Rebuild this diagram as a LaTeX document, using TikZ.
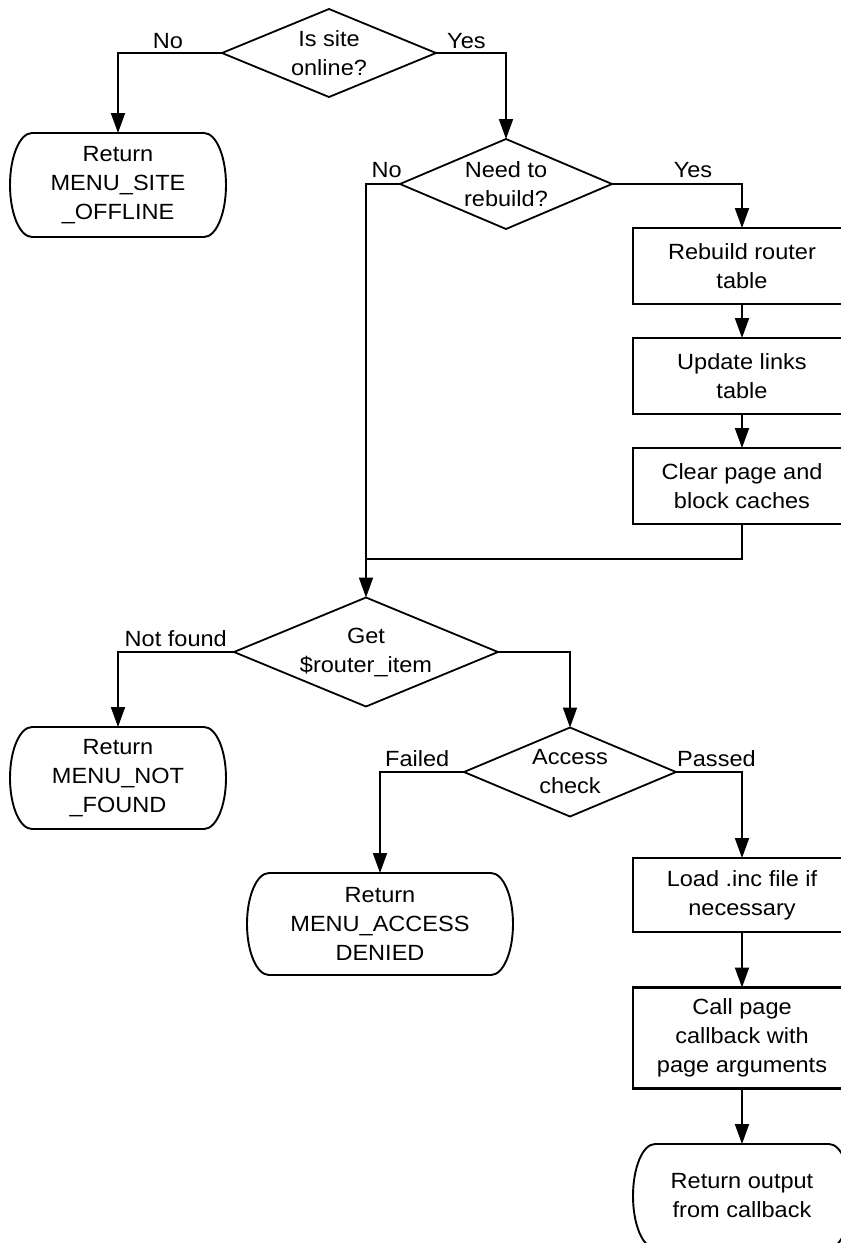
\documentclass[tikz,border=0pt]{standalone}
\usepackage{fontspec}
\setmainfont{Liberation Sans}[FakeStretch=1.07]
\usetikzlibrary{shapes.geometric,arrows.meta,calc}

% outline of a terminal node: straight top and bottom, elliptic sides
\newcommand\termframe[2]{%
  \draw[line] ($(#1.north west)+(22,0)$) -- ($(#1.north east)+(-22,0)$)
    arc[start angle=90,end angle=-90,x radius=22pt,y radius=#2pt]
    -- ($(#1.south west)+(22,0)$)
    arc[start angle=270,end angle=90,x radius=22pt,y radius=#2pt] -- cycle;}

\begin{document}
\begin{tikzpicture}[x=1pt,y=-1pt,
  line/.style={line width=1.9pt, line join=miter},
  arr/.style={line, -{Triangle[length=20pt,width=14pt]}},
  txt/.style={align=center, font=\fontsize{22}{29}\selectfont, inner sep=0pt, outer sep=0pt},
  dia/.style={diamond, draw, line width=1.8pt, inner sep=0pt, outer sep=0pt},
  box/.style={txt, rectangle, draw, line width=2.2pt, minimum width=218pt},
  term/.style={txt, rectangle, minimum width=216pt},
  lbl/.style={font=\fontsize{22}{29}\selectfont, inner sep=0pt}]

\useasboundingbox (0,0) rectangle (841,1243);
\clip (0,0) rectangle (841,1243);

% decisions
\node[dia, minimum width=214pt, minimum height=88pt] (d1) at (329,53) {};
\node[txt] (d1t) at (d1) {Is site\\online?};
\node[dia, minimum width=212pt, minimum height=90pt] (d2) at (506,184) {};
\node[txt] (d2t) at (d2) {Need to\\rebuild?};
\node[dia, minimum width=264pt, minimum height=109pt] (d3) at (366,652) {};
\node[txt] (d3t) at (d3) {Get\\\$router\_item};
\node[dia, minimum width=212pt, minimum height=89pt] (d4) at (570,772) {};
\node[txt] (d4t) at (d4) {Access\\check};

% process steps
\node[box, minimum height=76pt] (b1) at (742,266) {Rebuild router\\table};
\node[box, minimum height=76pt] (b2) at (742,376) {Update links\\table};
\node[box, minimum height=76pt] (b3) at (742,486) {Clear page and\\block caches};
\node[box, minimum height=74pt] (b4) at (742,895) {Load .inc file if\\necessary};
\node[box, minimum height=101pt] (b5) at (742,1038) {Call page\\callback with\\page arguments};

% terminals
\node[term, minimum height=104pt] (t1) at (118,185) {Return\\MENU\_SITE\\\_OFFLINE};
\node[term, minimum height=102pt] (t2) at (118,778) {Return\\MENU\_NOT\\\_FOUND};
\node[term, minimum width=266pt, minimum height=102pt] (t3) at (380,924) {Return\\MENU\_ACCESS\\DENIED};
\node[term, minimum width=218pt, minimum height=104pt] (t4) at (742,1196) {Return output\\from callback};
\termframe{t1}{52}
\termframe{t2}{51}
\termframe{t3}{51}
\termframe{t4}{52}

\coordinate (m) at (366,559);

% connectors
\draw[arr] (d1.west) -| (t1.north);
\draw[arr] (d1.east) -| (d2.north);
\draw[arr] (d2.east) -| (b1.north);
\draw[arr] (b1.south) -- (b2.north);
\draw[arr] (b2.south) -- (b3.north);
\draw[line] (b3.south) |- (m);
\draw[arr] (d2.west) -| (d3.north);
\draw[arr] (d3.west) -| (t2.north);
\draw[arr] (d3.east) -| (d4.north);
\draw[arr] (d4.west) -| (t3.north);
\draw[arr] (d4.east) -| (b4.north);
\draw[arr] (b4.south) -- (b5.north);
\draw[arr] (b5.south) -- (t4.north);

% branch labels
\node[lbl, anchor=base] (l1) at (168,48) {No};
\node[lbl, anchor=base west] (l2) at (447,48) {Yes};
\node[lbl, anchor=base east] (l3) at (402,177) {No};
\node[lbl, anchor=base] (l4) at (693,177) {Yes};
\node[lbl, anchor=base east] (l5) at (227,646) {Not found};
\node[lbl, anchor=base west] (l6) at (385,766) {Failed};
\node[lbl, anchor=base west] (l7) at (677,766) {Passed};
\end{tikzpicture}
\end{document}
